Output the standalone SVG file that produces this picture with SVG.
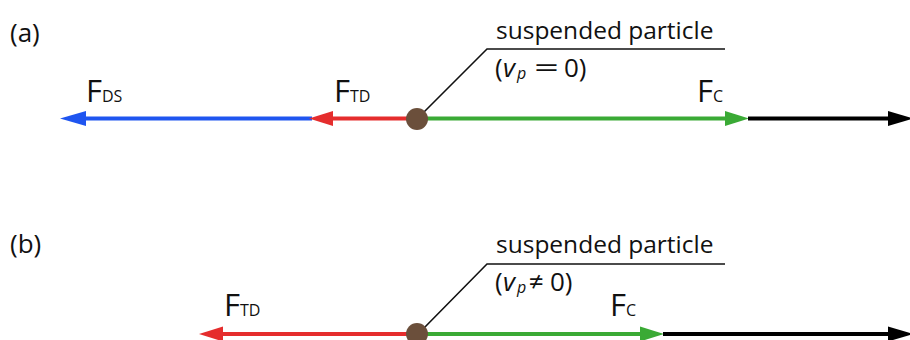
<svg xmlns="http://www.w3.org/2000/svg" width="910" height="340" viewBox="0 0 910 340">
<style>
text{font-family:"Open Sans","Noto Sans","Liberation Sans",sans-serif;fill:#111}
.lbl{font-size:26px}
.f{font-size:31px}
.sub{font-size:16px}
.cap{font-size:24.5px}
.eq{font-size:26px}
.it{font-style:italic}
.vec{stroke-width:4;fill:none}
.lead{stroke:#111;stroke-width:1.6;fill:none}
.blue{stroke:#1f55f0}.blueF{fill:#1f55f0}
.red{stroke:#e52d2d}.redF{fill:#e52d2d}
.green{stroke:#3aaa35}.greenF{fill:#3aaa35}
.blk{stroke:#000}.blkF{fill:#000}
.particle{fill:#6b4f3b}
</style>
<rect width="910" height="340" fill="#fff"/>
<g id="connectors">
  <!-- (a) -->
  <line class="vec blue" x1="84" y1="118.5" x2="312" y2="118.5"/>
  <polygon class="blueF" points="60,118.5 86,111 86,126"/>
  <line class="vec red" x1="330" y1="118.5" x2="417" y2="118.5"/>
  <polygon class="redF" points="309,118.5 333,111 333,126"/>
  <line class="vec green" x1="417" y1="118.5" x2="727" y2="118.5"/>
  <polygon class="greenF" points="749,118.5 725,111 725,126"/>
  <line class="vec blk" x1="748" y1="118.5" x2="890" y2="118.5"/>
  <polygon class="blkF" points="913,118.5 888,111 888,126"/>
  <polyline class="lead" points="424,112 487,49 725,49"/>
  <!-- (b) -->
  <line class="vec red" x1="221" y1="334" x2="417" y2="334"/>
  <polygon class="redF" points="199,334 223,326.5 223,341.5"/>
  <line class="vec green" x1="417" y1="334" x2="642" y2="334"/>
  <polygon class="greenF" points="664,334 640,326.5 640,341.5"/>
  <line class="vec blk" x1="663" y1="334" x2="890" y2="334"/>
  <polygon class="blkF" points="913,334 888,326.5 888,341.5"/>
  <polyline class="lead" points="424,328 487,264 725,264"/>
</g>
<g id="panel-a-label"><text class="lbl" x="10" y="42">(a)</text></g>
<g id="panel-b-label"><text class="lbl" x="10" y="253">(b)</text></g>
<g id="particle-a">
  <circle class="particle" cx="417" cy="119" r="11"/>
  <text class="cap" x="496" y="39">suspended particle</text>
  <text class="eq" x="495" y="77">(<tspan class="it" x="503">v</tspan><tspan class="it sub" x="517" dy="2">p</tspan></text>
  <text class="eq" x="534" y="77" textLength="25" lengthAdjust="spacingAndGlyphs">=</text>
  <text class="eq" x="564" y="77">0)</text>
</g>
<g id="particle-b">
  <circle class="particle" cx="417" cy="334" r="11"/>
  <text class="cap" x="496" y="253">suspended particle</text>
  <text class="eq" x="495" y="291">(<tspan class="it" x="503">v</tspan><tspan class="it sub" x="517" dy="2">p</tspan></text>
  <text class="eq" x="529" y="291">≠</text>
  <text class="eq" x="550" y="291">0)</text>
</g>
<g id="F-DS-a"><text class="f" x="86" y="102">F<tspan class="sub">DS</tspan></text></g>
<g id="F-TD-a"><text class="f" x="334" y="102">F<tspan class="sub">TD</tspan></text></g>
<g id="F-C-a"><text class="f" x="697" y="102">F<tspan class="sub">C</tspan></text></g>
<g id="F-TD-b"><text class="f" x="224" y="316">F<tspan class="sub">TD</tspan></text></g>
<g id="F-C-b"><text class="f" x="610" y="316">F<tspan class="sub">C</tspan></text></g>
</svg>
